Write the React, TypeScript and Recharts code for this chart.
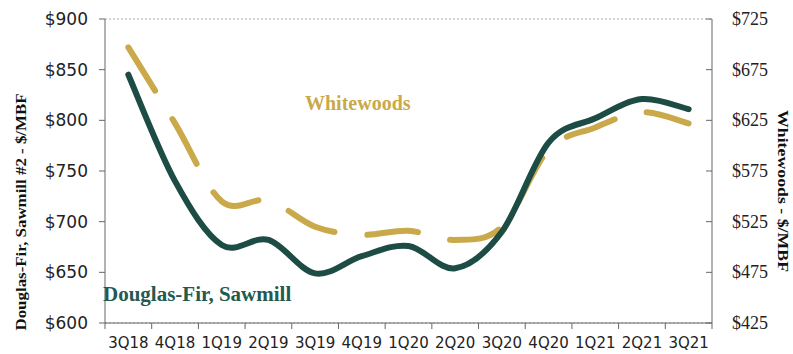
import React from "react";
import { LineChart, Line, XAxis, YAxis, CartesianGrid } from "recharts";

const quarters = ["3Q18", "4Q18", "1Q19", "2Q19", "3Q19", "4Q19", "1Q20", "2Q20", "3Q20", "4Q20", "1Q21", "2Q21", "3Q21"];
const douglasFir = [845, 740, 677, 682, 649, 666, 676, 654, 690, 778, 802, 821, 811];
const whitewoods = [697, 622, 545, 546, 520, 512, 516, 507, 520, 596, 618, 633, 622];
const leftTicks = [600, 650, 700, 750, 800, 850, 900];
const rightTicks = [425, 475, 525, 575, 625, 675, 725];

const data = quarters.map((q, i) => ({ q, df: douglasFir[i], ww: whitewoods[i] }));

const W = 793;
const H = 354;
const PLOT_LEFT = 105;
const PLOT_RIGHT = 712;
const BAND = (PLOT_RIGHT - PLOT_LEFT) / quarters.length;

const GREEN = "#1c4c43";
const GOLD = "#c9a94a";
const AXIS = "#666";

// catmull-rom style smoothing, close to excel's smoothed line
function smoothCurve(context: any) {
  let pts: [number, number][] = [];
  return {
    areaStart() {},
    areaEnd() {},
    lineStart() {
      pts = [];
    },
    lineEnd() {
      if (!pts.length) return;
      context.moveTo(pts[0][0], pts[0][1]);
      for (let i = 0; i < pts.length - 1; i++) {
        const p0 = pts[Math.max(i - 1, 0)];
        const p1 = pts[i];
        const p2 = pts[i + 1];
        const p3 = pts[Math.min(i + 2, pts.length - 1)];
        context.bezierCurveTo(
          p1[0] + (p2[0] - p0[0]) / 6,
          p1[1] + (p2[1] - p0[1]) / 6,
          p2[0] - (p3[0] - p1[0]) / 6,
          p2[1] - (p3[1] - p1[1]) / 6,
          p2[0],
          p2[1]
        );
      }
    },
    point(x: number, y: number) {
      pts.push([+x, +y]);
    },
  };
}

function XTick(props: any) {
  const { x, y, payload, index } = props;
  const top = y - 8;
  return (
    <g>
      <line x1={x - BAND / 2} x2={x - BAND / 2} y1={top} y2={top + 6} stroke={AXIS} />
      {index === quarters.length - 1 && (
        <line x1={x + BAND / 2} x2={x + BAND / 2} y1={top} y2={top + 6} stroke={AXIS} />
      )}
      <text x={x} y={top + 25} textAnchor="middle" fontFamily="DejaVu Sans" fontSize={15} fill="#222">
        {payload.value}
      </text>
    </g>
  );
}

function RightTick(props: any) {
  const { y, payload } = props;
  return (
    <g>
      <line x1={PLOT_RIGHT - 6} x2={PLOT_RIGHT} y1={y} y2={y} stroke={AXIS} />
      <text x={PLOT_RIGHT + 20} y={y + 6} fontFamily="Liberation Serif" fontSize={18} fill="#222">
        ${payload.value}
      </text>
    </g>
  );
}

const titleStyle = { fontFamily: "Liberation Serif", fontWeight: "bold", fontSize: 15, fill: "#111" } as const;

export default function App() {
  return (
    <div style={{ position: "absolute", left: 0, top: 0, width: W, height: H, background: "#fff" }}>
      <LineChart width={W} height={H} data={data} margin={{ top: 19, right: 0, bottom: 0, left: 0 }}>
        <CartesianGrid vertical={false} stroke="#aaa" strokeDasharray="2 2" />
        <XAxis
          dataKey="q"
          height={31}
          stroke={AXIS}
          tickLine={false}
          tick={<XTick />}
          interval={0}
          padding={{ left: BAND / 2, right: BAND / 2 }}
        />
        <YAxis
          yAxisId="left"
          width={105}
          domain={[600, 900]}
          ticks={leftTicks}
          stroke={AXIS}
          tickSize={6}
          tickMargin={11}
          tickFormatter={(v: number) => `$${v}`}
          tick={{ fontFamily: "DejaVu Sans", fontSize: 17, fill: "#222" }}
        />
        <YAxis
          yAxisId="right"
          orientation="right"
          width={81}
          domain={[425, 725]}
          ticks={rightTicks}
          stroke={AXIS}
          tickLine={false}
          tickSize={0}
          tick={<RightTick />}
        />
        <Line
          yAxisId="right"
          dataKey="ww"
          type={smoothCurve as any}
          stroke={GOLD}
          strokeWidth={6}
          strokeDasharray="51 33"
          strokeLinecap="round"
          dot={false}
          activeDot={false}
          isAnimationActive={false}
        />
        <Line
          yAxisId="left"
          dataKey="df"
          type={smoothCurve as any}
          stroke={GREEN}
          strokeWidth={6}
          strokeLinecap="round"
          dot={false}
          activeDot={false}
          isAnimationActive={false}
        />
      </LineChart>
      <svg width={W} height={H} style={{ position: "absolute", left: 0, top: 0, pointerEvents: "none" }}>
        <text
          transform="translate(26,212) rotate(-90)"
          textAnchor="middle"
          textLength={237}
          lengthAdjust="spacingAndGlyphs"
          {...titleStyle}
        >
          Douglas-Fir, Sawmill #2 - $/MBF
        </text>
        <text
          transform="translate(778,191) rotate(90)"
          textAnchor="middle"
          textLength={162}
          lengthAdjust="spacingAndGlyphs"
          {...titleStyle}
        >
          Whitewoods - $/MBF
        </text>
      </svg>
      <div
        style={{
          position: "absolute",
          left: 305,
          top: 92,
          fontFamily: "Liberation Serif",
          fontWeight: "bold",
          fontSize: 20,
          color: GOLD,
          whiteSpace: "nowrap",
        }}
      >
        Whitewoods
      </div>
      <div
        style={{
          position: "absolute",
          left: 103,
          top: 282,
          fontFamily: "Liberation Serif",
          fontWeight: "bold",
          fontSize: 21,
          color: "#235a4f",
          whiteSpace: "nowrap",
        }}
      >
        Douglas-Fir, Sawmill
      </div>
    </div>
  );
}
